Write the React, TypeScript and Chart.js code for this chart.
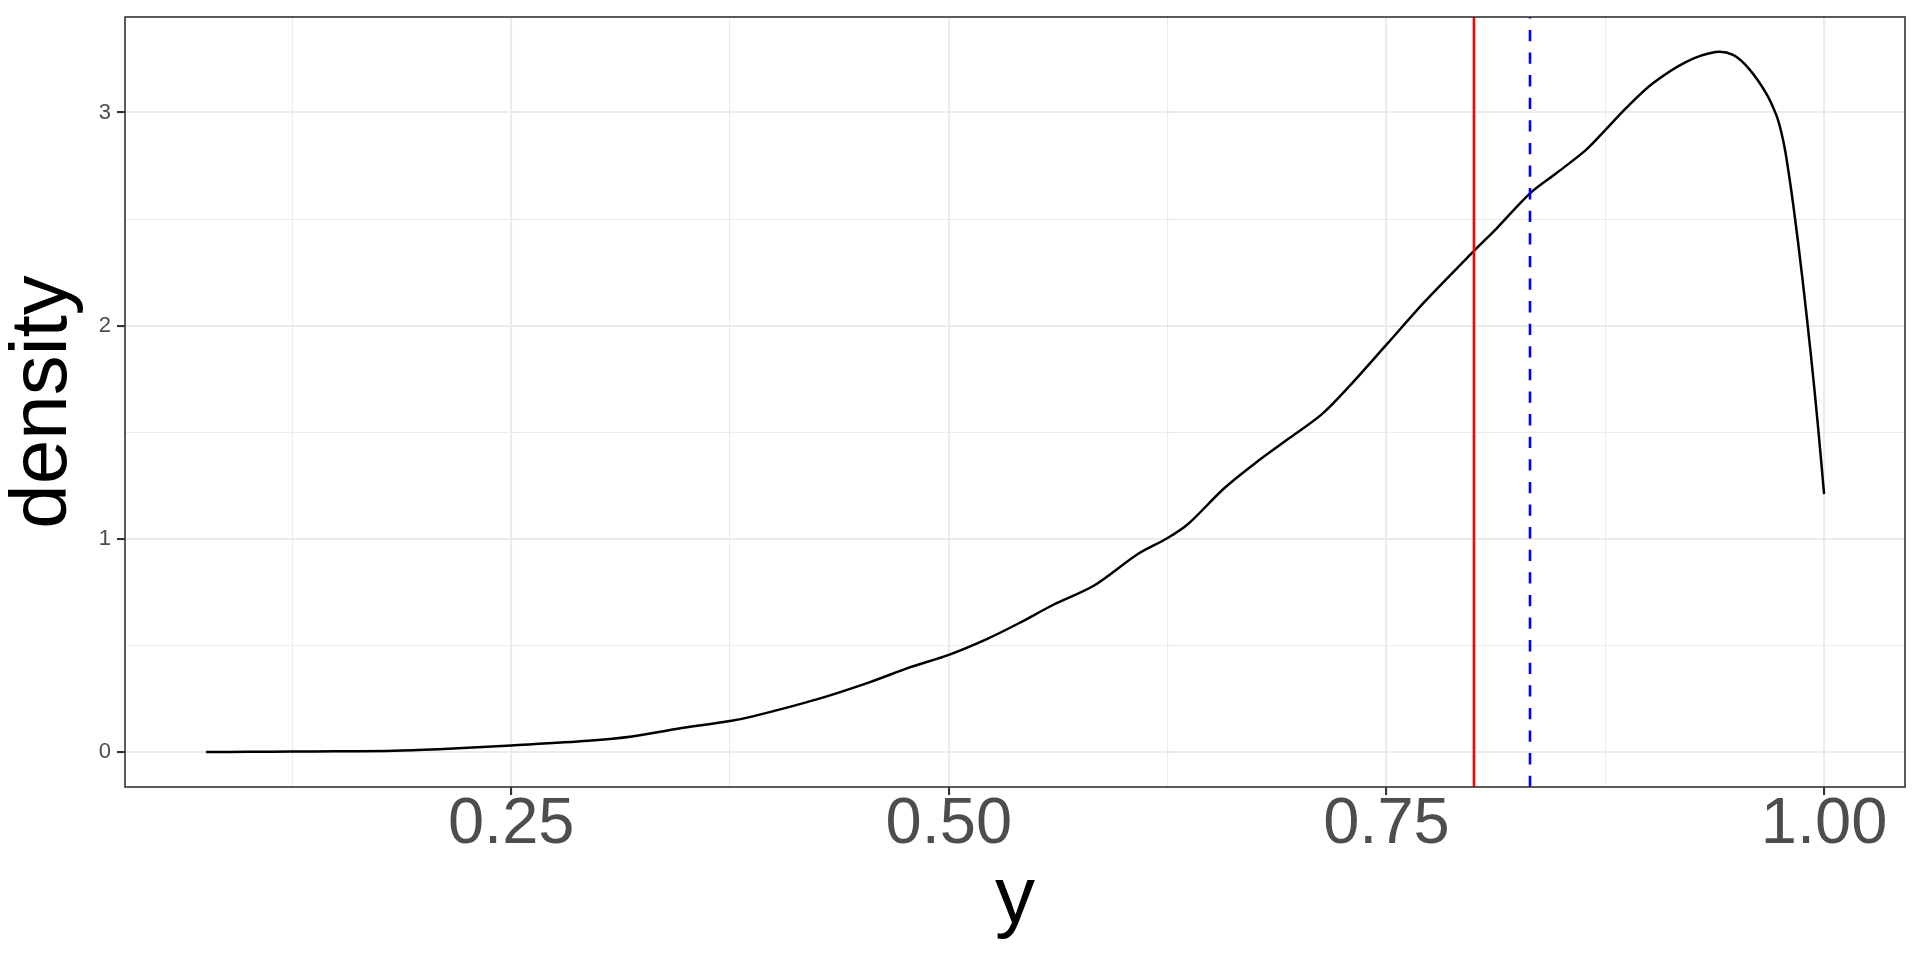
import { useEffect, useRef } from 'react';
import { Chart, registerables } from 'chart.js';
import type { Plugin, Scale } from 'chart.js';

Chart.register(...registerables);

// Density curve of y
const densityX = [
  0.0756, 0.100, 0.125, 0.150, 0.179, 0.200, 0.217, 0.250, 0.294, 0.319,
  0.345, 0.375, 0.388, 0.425, 0.455, 0.478, 0.500, 0.522, 0.540, 0.560,
  0.583, 0.608, 0.625, 0.637, 0.657, 0.675, 0.695, 0.713, 0.728, 0.750,
  0.772, 0.800, 0.813, 0.832, 0.847, 0.864, 0.875, 0.887, 0.902, 0.921,
  0.938, 0.948, 0.957, 0.967, 0.9726, 0.9755, 0.978, 0.9825, 0.9875, 0.9925,
  0.9965, 1.000,
];
const densityY = [
  0.000, 0.001, 0.002, 0.003, 0.005, 0.010, 0.016, 0.031, 0.053, 0.073,
  0.109, 0.145, 0.167, 0.248, 0.328, 0.398, 0.456, 0.531, 0.604, 0.692,
  0.781, 0.929, 1.004, 1.072, 1.235, 1.355, 1.475, 1.584, 1.709, 1.911,
  2.114, 2.351, 2.457, 2.621, 2.715, 2.825, 2.918, 3.022, 3.136, 3.237,
  3.284, 3.270, 3.206, 3.089, 2.990, 2.910, 2.810, 2.560, 2.230, 1.860,
  1.530, 1.210,
];

// reference lines: solid red (mean) and dashed blue (median)
const meanValue   = 0.800;
const medianValue = 0.832;

const xMajorTicks = [0.25, 0.5, 0.75, 1.0];
const xMinorTicks = [0.125, 0.375, 0.625, 0.875];
const xTickLabels = ['0.25', '0.50', '0.75', '1.00'];
const yMajorTicks = [0, 1, 2, 3];
const yMinorTicks = [0.5, 1.5, 2.5];
const yTickLabels = ['0', '1', '2', '3'];

// ggplot-style 5% expansion of the data range
const expand = (vals: number[]) => {
  const lo = Math.min(...vals), hi = Math.max(...vals);
  const d = (hi - lo) * 0.05;
  return [lo - d, hi + d];
};

const GRID  = '#EBEBEB';
const INK   = '#333333';
const LABEL = '#4D4D4D';
const FONT  = "'Liberation Sans', Arial, Helvetica, sans-serif";

const refLines: Plugin = {
  id: 'refLines',
  afterDatasetsDraw(chart) {
    const { ctx, chartArea: a, scales } = chart;
    const x = scales.x;
    ctx.save();
    ctx.beginPath();
    ctx.rect(a.left, a.top, a.right - a.left, a.bottom - a.top);
    ctx.clip();

    ctx.lineWidth = 2.6;
    ctx.strokeStyle = '#FF0000';
    const xm = x.getPixelForValue(meanValue);
    ctx.beginPath();
    ctx.moveTo(xm, a.bottom);
    ctx.lineTo(xm, a.top);
    ctx.stroke();

    ctx.strokeStyle = '#0000FF';
    ctx.setLineDash([11.3, 11.3]);
    const xd = x.getPixelForValue(medianValue);
    ctx.beginPath();
    ctx.moveTo(xd, a.bottom);
    ctx.lineTo(xd, a.top);
    ctx.stroke();
    ctx.restore();

    // panel border on top
    ctx.save();
    ctx.lineWidth = 1.6;
    ctx.strokeStyle = INK;
    ctx.strokeRect(a.left, a.top, a.right - a.left, a.bottom - a.top);
    ctx.restore();
  },
};

function makeTicks(major: number[], minor: number[]) {
  return (scale: Scale) => {
    scale.ticks = [...major, ...minor].sort((p, q) => p - q).map(value => ({ value }));
  };
}

export default function App() {
  const canvasRef = useRef<HTMLCanvasElement>(null);

  useEffect(() => {
    if (!canvasRef.current) return;
    const [xMin, xMax] = expand(densityX);
    const [yMin, yMax] = expand(densityY);

    const chart = new Chart(canvasRef.current, {
      type: 'line',
      data: {
        datasets: [{
          data: densityX.map((x, i) => ({ x, y: densityY[i] })),
          borderColor: '#000000',
          borderWidth: 2.5,
          pointRadius: 0,
          fill: false,
          tension: 0.3,
        }],
      },
      options: {
        responsive: true,
        maintainAspectRatio: false,
        animation: false,
        events: [],
        layout: { padding: { top: 15, right: 15, left: 0, bottom: 0 } },
        plugins: { legend: { display: false }, tooltip: { enabled: false } },
        scales: {
          x: {
            type: 'linear',
            min: xMin,
            max: xMax,
            afterBuildTicks: makeTicks(xMajorTicks, xMinorTicks),
            afterFit: s => { s.height = 173; },
            border: { display: false },
            grid: {
              color: GRID,
              lineWidth: c => (xMajorTicks.includes(c.tick?.value) ? 2.1 : 1.05),
              tickColor: c => (xMajorTicks.includes(c.tick?.value) ? INK : 'rgba(0,0,0,0)'),
              tickWidth: 2.1,
              tickLength: 8,
            },
            ticks: {
              autoSkip: false,
              maxRotation: 0,
              minRotation: 0,
              padding: -2,
              color: LABEL,
              font: { family: FONT, size: 65, lineHeight: 1 },
              callback: v => {
                const i = xMajorTicks.indexOf(v as number);
                return i >= 0 ? xTickLabels[i] : '';
              },
            },
            title: {
              display: true,
              text: 'y',
              color: '#000000',
              font: { family: FONT, size: 80, lineHeight: 1.1 },
              padding: { top: 0, bottom: 16 },
            },
          },
          y: {
            type: 'linear',
            min: yMin,
            max: yMax,
            afterBuildTicks: makeTicks(yMajorTicks, yMinorTicks),
            afterFit: s => { s.width = 125; },
            border: { display: false },
            grid: {
              color: GRID,
              lineWidth: c => (yMajorTicks.includes(c.tick?.value) ? 2.1 : 1.05),
              tickColor: c => (yMajorTicks.includes(c.tick?.value) ? INK : 'rgba(0,0,0,0)'),
              tickWidth: 2.1,
              tickLength: 8,
            },
            ticks: {
              autoSkip: false,
              padding: 6,
              color: LABEL,
              font: { family: FONT, size: 22, lineHeight: 1 },
              callback: v => {
                const i = yMajorTicks.indexOf(v as number);
                return i >= 0 ? yTickLabels[i] : '';
              },
            },
            title: {
              display: true,
              text: 'density',
              color: '#000000',
              font: { family: FONT, size: 80, lineHeight: 1.1 },
              padding: { top: 0, bottom: 0 },
            },
          },
        },
      },
      plugins: [refLines],
    });

    return () => chart.destroy();
  }, []);

  return (
    <div style={{ position: 'fixed', left: 0, top: 0, width: 1920, height: 960, background: '#fff' }}>
      <canvas ref={canvasRef} />
    </div>
  );
}
